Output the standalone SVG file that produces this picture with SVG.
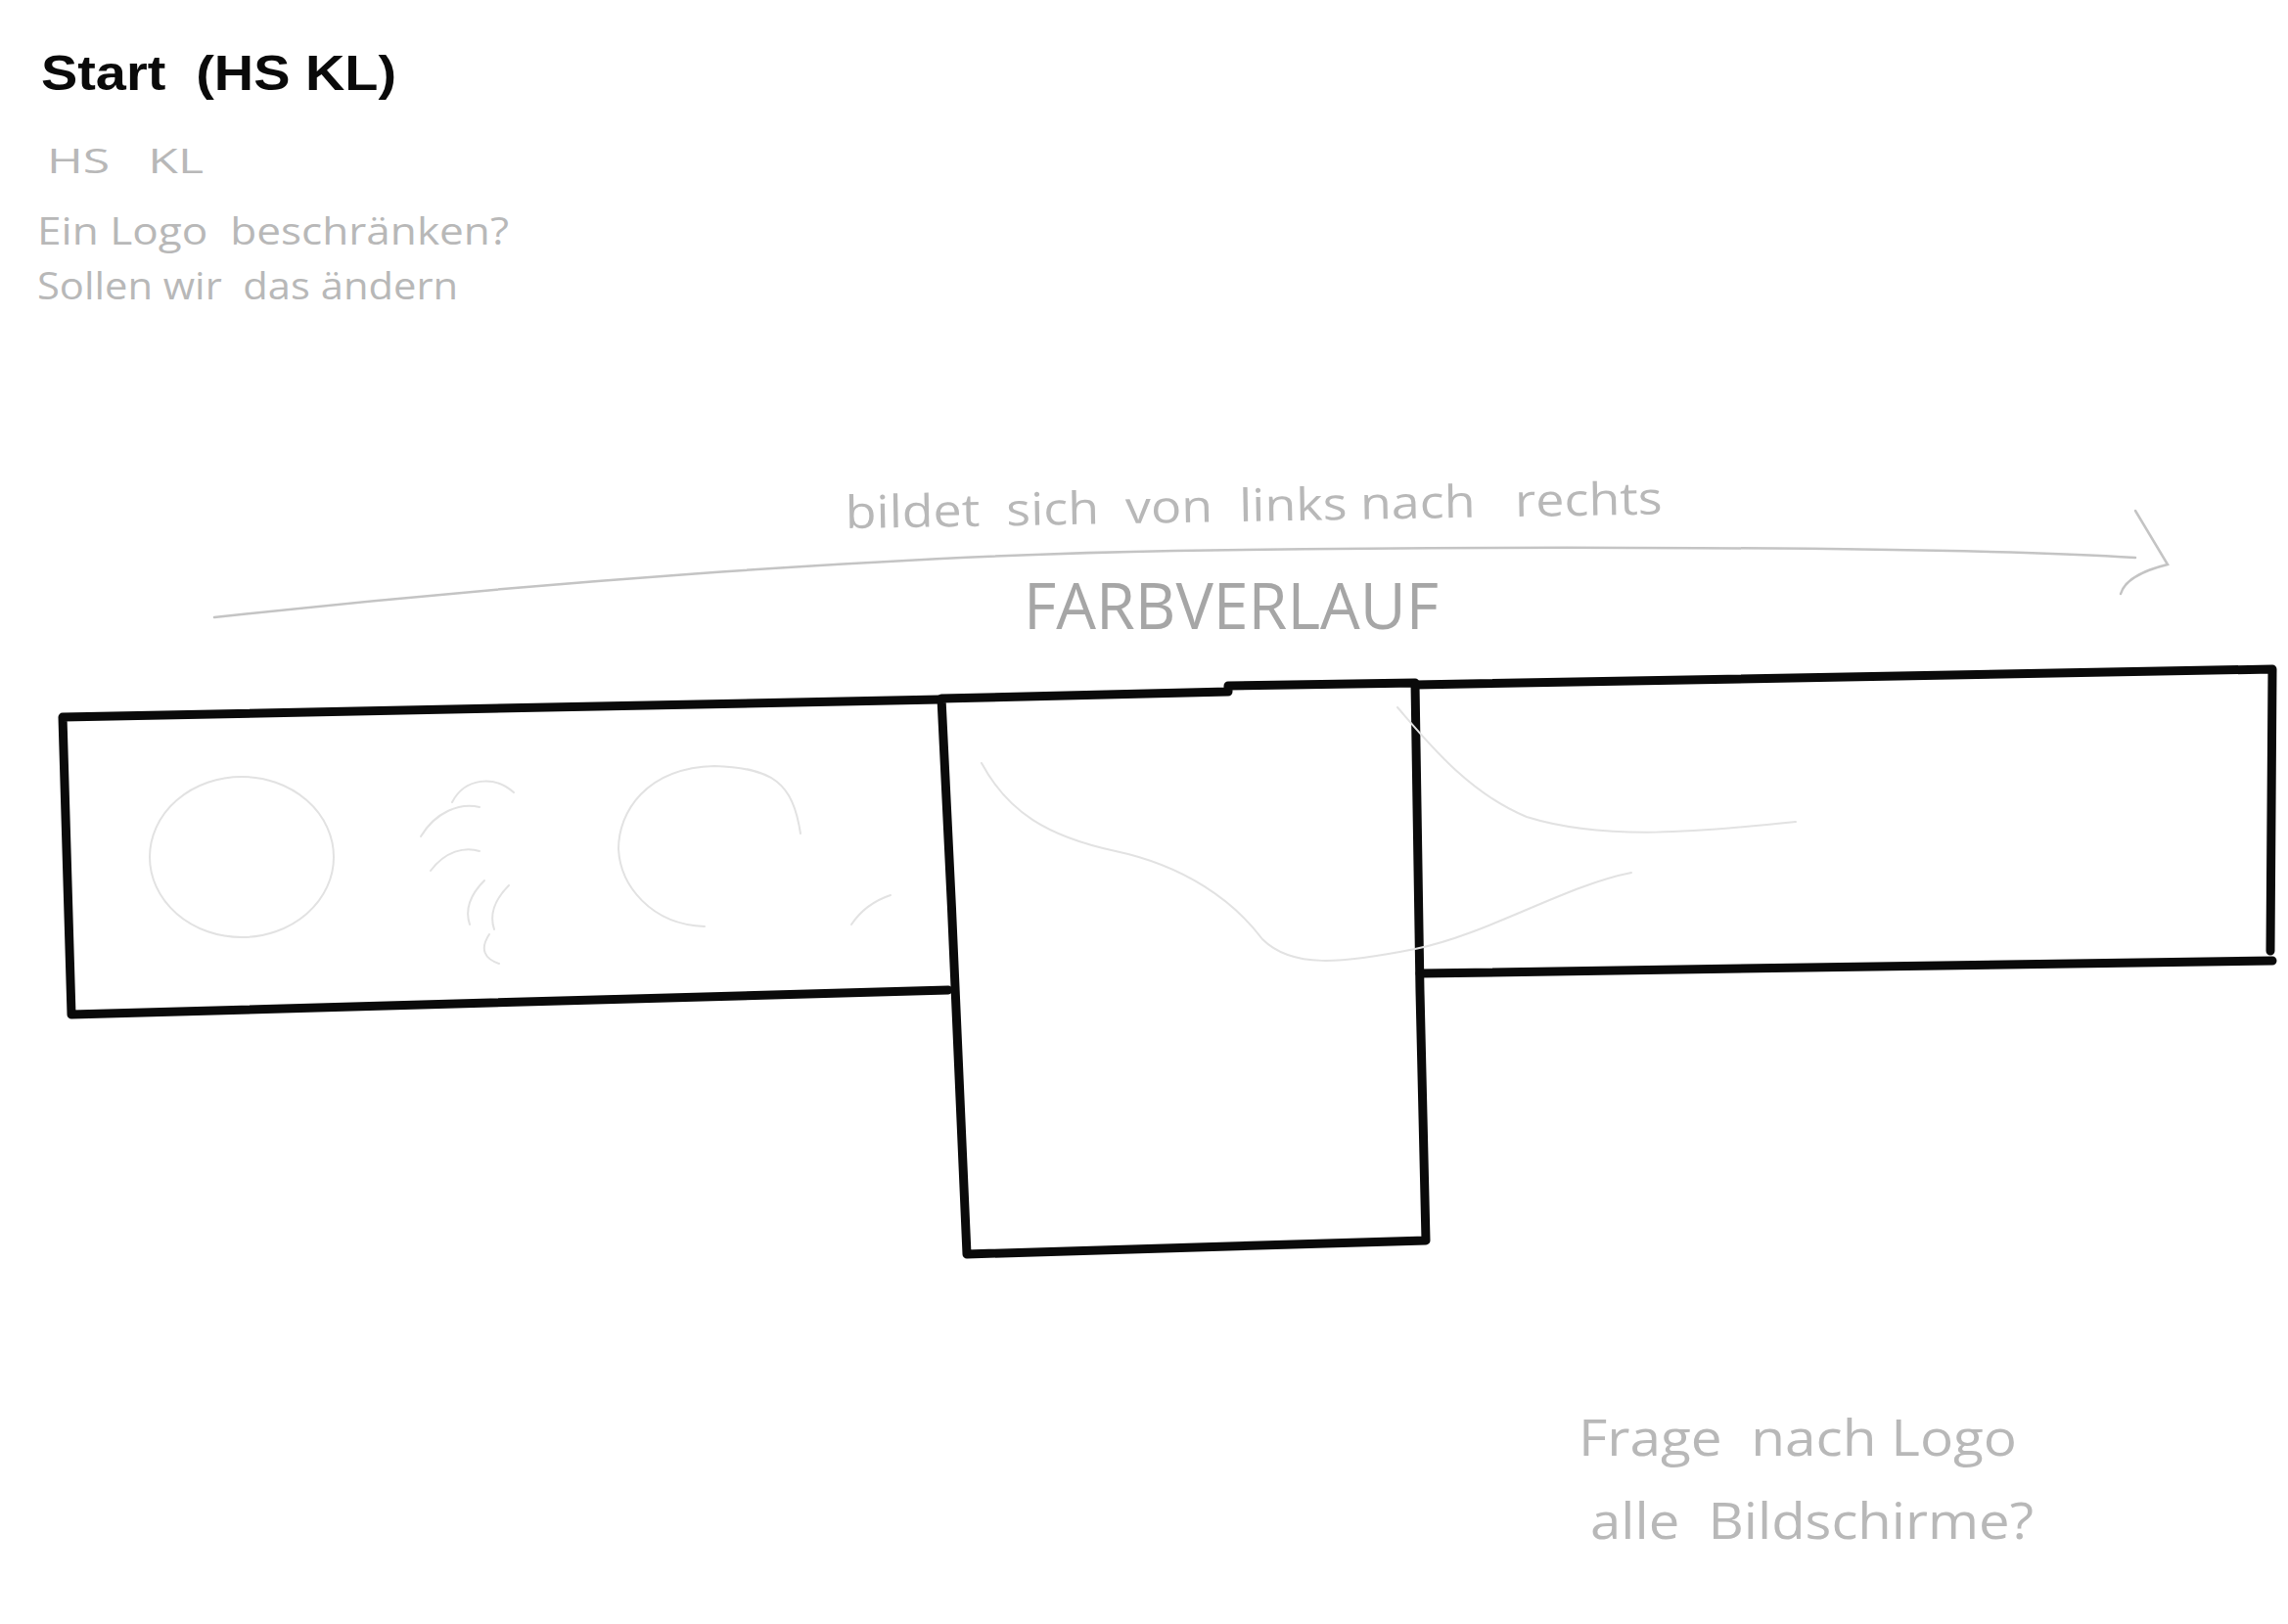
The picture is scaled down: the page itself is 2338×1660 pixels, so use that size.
<svg xmlns="http://www.w3.org/2000/svg" width="2338" height="1660" viewBox="0 0 2338 1660">
<defs>
<style>
text{white-space:pre}
.ink{fill:none;stroke:#0a0a0a;stroke-width:9;stroke-linejoin:round;stroke-linecap:round}
.pen{fill:none;stroke:#c4c4c4;stroke-width:2.5;stroke-linecap:round}
.faint{fill:none;stroke:#e2e2e2;stroke-width:2;stroke-linecap:round}
.title{font-family:"Liberation Sans",Arial,sans-serif;font-weight:bold;fill:#0a0a0a}
.note{font-family:"Open Sans","Liberation Sans",sans-serif;fill:#b8b8b8}
.note2{font-family:"Open Sans","Liberation Sans",sans-serif;fill:#a6a6a6}
</style>
</defs>
<rect width="2338" height="1660" fill="#ffffff"/>

<g id="title">
<text class="title" x="42" y="92" font-size="50" textLength="363" lengthAdjust="spacingAndGlyphs">Start  (HS KL)</text>
</g>

<g id="notes-top-left">
<text class="note" x="48" y="177" font-size="34" textLength="160" lengthAdjust="spacingAndGlyphs">HS   KL</text>
<text class="note" x="38" y="250" font-size="38" textLength="482" lengthAdjust="spacingAndGlyphs">Ein Logo  beschränken?</text>
<text class="note" x="38" y="306" font-size="38" textLength="430" lengthAdjust="spacingAndGlyphs">Sollen wir  das ändern</text>
</g>

<g id="connectors">
<path class="pen" d="M219,631 C520,598 900,568 1200,563 S2000,558 2182,570"/>
<path class="pen" d="M2182,522 L2215,577 C2195,582 2172,590 2167,607" stroke-width="3"/>
</g>

<g id="label-arrow">
<text class="note" x="864" y="540" font-size="46" textLength="835" lengthAdjust="spacingAndGlyphs" transform="rotate(-1 864 540)">bildet  sich  von  links nach   rechts</text>
<text class="note2" x="1046" y="643" font-size="66" textLength="424" lengthAdjust="spacingAndGlyphs">FARBVERLAUF</text>
</g>

<g id="node-left">
<path class="ink" d="M960,715 L64,733 L73,1037 L969,1012"/>
<ellipse class="faint" cx="247" cy="876" rx="94" ry="82"/>
<path class="faint" d="M818,852 C810,800 790,785 730,783 C660,785 632,830 632,868 C634,905 665,945 720,947"/>
<path class="faint" d="M462,820 C475,795 505,792 525,810"/>
<path class="faint" d="M430,855 C445,830 470,820 490,825"/>
<path class="faint" d="M440,890 C455,870 475,865 490,870"/>
<path class="faint" d="M495,900 C480,915 475,930 480,945"/>
<path class="faint" d="M520,905 C505,920 500,935 505,950"/>
<path class="faint" d="M500,955 C490,970 495,980 510,985"/>
<path class="faint" d="M870,945 C880,930 895,920 910,915"/>
</g>

<g id="node-middle">
<path class="ink" d="M962,714 L1255,707 L1255,701 L1446,698 L1451,1013 L1457,1268 L988,1282 C982,1150 972,900 962,714 Z"/>
<path class="faint" d="M1003,780 C1030,830 1070,855 1140,870 C1210,885 1260,920 1290,960 C1320,990 1370,985 1446,970 C1520,955 1600,905 1667,892"/>
</g>

<g id="node-right">
<path class="ink" d="M1446,700 L2322,684 L2320,972"/>
<path class="ink" d="M1451,995 L2322,982"/>
<path class="faint" d="M1428,723 C1460,760 1500,810 1560,835 C1640,860 1740,850 1835,840"/>
</g>

<g id="notes-bottom-right">
<text class="note" x="1613" y="1488" font-size="52" textLength="448" lengthAdjust="spacingAndGlyphs">Frage  nach Logo</text>
<text class="note" x="1625" y="1573" font-size="52" textLength="453" lengthAdjust="spacingAndGlyphs">alle  Bildschirme?</text>
</g>
</svg>
